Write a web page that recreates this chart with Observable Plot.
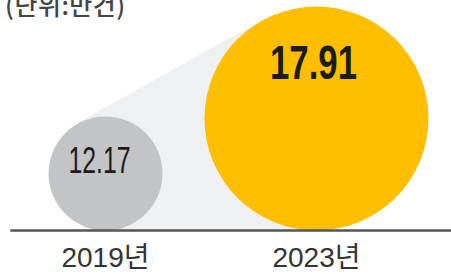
<!DOCTYPE html>
<html><head><meta charset="utf-8">
<script src="https://cdn.jsdelivr.net/npm/d3@7"></script>
<script src="https://cdn.jsdelivr.net/npm/@observablehq/plot@0.6"></script>
<style>
body{margin:0;background:#fff;overflow:hidden}
#wrap{position:relative;width:451px;height:274px}
#unit{position:absolute;left:5px;top:-8px;font:500 25px "Noto Sans CJK KR",sans-serif;line-height:25px;color:#444;letter-spacing:0.5px;white-space:nowrap}
#wrap svg g[aria-label="x-axis tick label"] text{font-size:28px}
</style></head><body>
<div id="wrap"><div id="unit">(단위:만건)</div></div>
<script>
const years = ["2019년", "2023년"];
const values = [12.17, 17.91];
const labels = ["12.17", "17.91"];
const colors = ["#c3c4c6", "#fdbf00"];

const table = years.map((y, i) => ({year: y, value: values[i], label: labels[i]}));

// label styling per bubble (offset from circle centre, font size, weight, squeezed width)
const labelStyle = [
  {dx: -6, dy: -13, size: 36, weight: 500, len: 62},
  {dx: -3, dy: -56, size: 48, weight: 700, len: 87}
];

function shadowRender(index, scales, vals, dims) {
  const base = dims.height - dims.marginBottom;
  const [i, j] = Array.from(index).sort((a, b) => vals.x[a] - vals.x[b]);
  const x1 = vals.x[i], r1 = vals.r[i], y1 = base - r1;
  const x2 = vals.x[j], r2 = vals.r[j], y2 = base - r2;
  const dx = x2 - x1, dy = y2 - y1, d = Math.hypot(dx, dy);
  const ang = Math.atan2(dy, dx) - Math.asin((r2 - r1) / d);
  const nx = Math.sin(ang), ny = -Math.cos(ang);
  const p1 = [x1 + r1 * nx, y1 + r1 * ny];
  const p2 = [x2 + r2 * nx, y2 + r2 * ny];
  const pts = [p1, p2, [x2, base], [x1, base]];
  return d3.create("svg:path")
    .attr("d", "M" + pts.map(p => p.join(",")).join("L") + "Z")
    .attr("fill", "#eef0f1")
    .node();
}

function bubbleRender(index, scales, vals, dims, ctx, next) {
  const g = next(index, scales, vals, dims, ctx);
  const base = dims.height - dims.marginBottom;
  const sel = d3.select(g);
  sel.selectAll("circle").each(function(_, k) {
    d3.select(this).attr("cy", base - vals.r[index[k]]);
  });
  for (const i of index) {
    const st = labelStyle[i];
    sel.append("text")
      .attr("x", vals.x[i] + st.dx)
      .attr("y", base - vals.r[i] + st.dy)
      .attr("text-anchor", "middle")
      .attr("dominant-baseline", "central")
      .attr("font-family", "'Liberation Sans', Arial, sans-serif")
      .attr("font-size", st.size)
      .attr("font-weight", st.weight)
      .attr("fill", "#1c1c1c")
      .attr("textLength", st.len)
      .attr("lengthAdjust", "spacingAndGlyphs")
      .text(table[i].label);
  }
  return g;
}

const chart = Plot.plot({
  width: 451,
  height: 274,
  marginTop: 0,
  marginLeft: 11,
  marginRight: 0,
  marginBottom: 44,
  style: {fontFamily: "'Liberation Sans', 'Noto Sans CJK KR', sans-serif", background: "transparent"},
  x: {type: "point", domain: years, range: [105, 316], padding: 0},
  r: {type: "linear", domain: d3.extent(values), range: [57, 112]},
  color: {domain: years, range: colors},
  marks: [
    Plot.dot(table, {x: "year", r: "value", render: shadowRender}),
    Plot.dot(table, {x: "year", r: "value", fill: "year", stroke: null, render: bubbleRender}),
    Plot.frame({anchor: "bottom", stroke: "#555", strokeWidth: 2.5}),
    Plot.axisX({tickSize: 0, tickPadding: 17, fontSize: 28, fill: "#333", label: null})
  ]
});
document.getElementById("wrap").prepend(chart);
</script>
</body></html>
